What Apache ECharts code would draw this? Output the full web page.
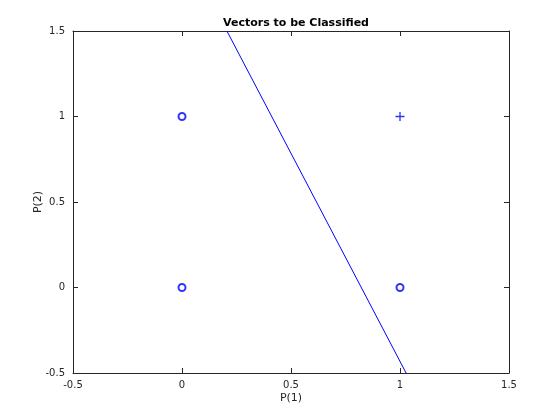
<!DOCTYPE html>
<html>
<head>
<meta charset="utf-8">
<script src="https://cdn.jsdelivr.net/npm/echarts@6/dist/echarts.min.js"></script>
<style>
  html, body { margin: 0; padding: 0; background: #fff; }
  #chart { width: 560px; height: 420px; }
</style>
</head>
<body>
<div id="chart"></div>
<script>
// input vectors, class 0 drawn as circles, class 1 as plus
const circlePoints = [[0, 1], [0, 0], [1, 0]]
const plusPoints = [[1, 1]]
// decision boundary endpoints where it meets the axes
const boundary = [[0.206, 1.5], [1.028, -0.5]]
const xTicks = [-0.5, 0, 0.5, 1, 1.5]
const yTicks = [-0.5, 0, 0.5, 1, 1.5]

const blue = '#0000ff'
const font = 'DejaVu Sans'
const axisColor = '#262626'

function axis(extra) {
  return Object.assign({
    type: 'value',
    min: -0.5,
    max: 1.5,
    interval: 0.5,
    axisLine: { show: true, onZero: false, lineStyle: { color: axisColor, width: 1 } },
    axisTick: { show: true, inside: true, length: 5, lineStyle: { color: axisColor } },
    splitLine: { show: false },
    axisLabel: { color: axisColor, fontFamily: font, fontSize: 10 }
  }, extra)
}

const chart = echarts.init(document.getElementById('chart'), null, { renderer: 'canvas' })
chart.setOption({
  animation: false,
  backgroundColor: '#fff',
  title: {
    text: 'Vectors to be Classified',
    left: 291,
    textAlign: 'center',
    top: 13,
    textStyle: { fontFamily: font, fontSize: 11, fontWeight: 'bold', color: '#000' }
  },
  grid: { left: 73, right: 51, top: 31, bottom: 47 },
  xAxis: [
    axis({
      position: 'bottom',
      name: 'P(1)',
      nameLocation: 'middle',
      nameGap: 20,
      nameMoveOverlap: false,
      nameTextStyle: { fontFamily: font, fontSize: 11, color: axisColor },
      axisLabel: {
        color: axisColor, fontFamily: font, fontSize: 10, margin: 7,
        formatter: v => xTicks.includes(v) ? String(v) : ''
      }
    }),
    axis({ position: 'top', axisLabel: { show: false } })
  ],
  yAxis: [
    axis({
      position: 'left',
      name: 'P(2)',
      nameLocation: 'middle',
      nameGap: 29,
      nameMoveOverlap: false,
      nameTextStyle: { fontFamily: font, fontSize: 11, color: axisColor },
      axisLabel: {
        color: axisColor, fontFamily: font, fontSize: 10, margin: 8,
        formatter: v => yTicks.includes(v) ? String(v) : ''
      }
    }),
    axis({ position: 'right', axisLabel: { show: false } })
  ],
  series: [
    {
      type: 'line',
      data: boundary,
      symbol: 'none',
      lineStyle: { color: blue, width: 1 },
      clip: true
    },
    {
      type: 'scatter',
      data: circlePoints,
      symbol: 'emptyCircle',
      symbolSize: 7,
      itemStyle: { color: blue, borderColor: blue, borderWidth: 1 }
    },
    {
      type: 'scatter',
      data: plusPoints,
      symbol: 'path://M4.25,0h1.5v4.25h4.25v1.5h-4.25v4.25h-1.5v-4.25h-4.25v-1.5h4.25z',
      symbolSize: 9,
      itemStyle: { color: blue }
    }
  ]
})
</script>
</body>
</html>
